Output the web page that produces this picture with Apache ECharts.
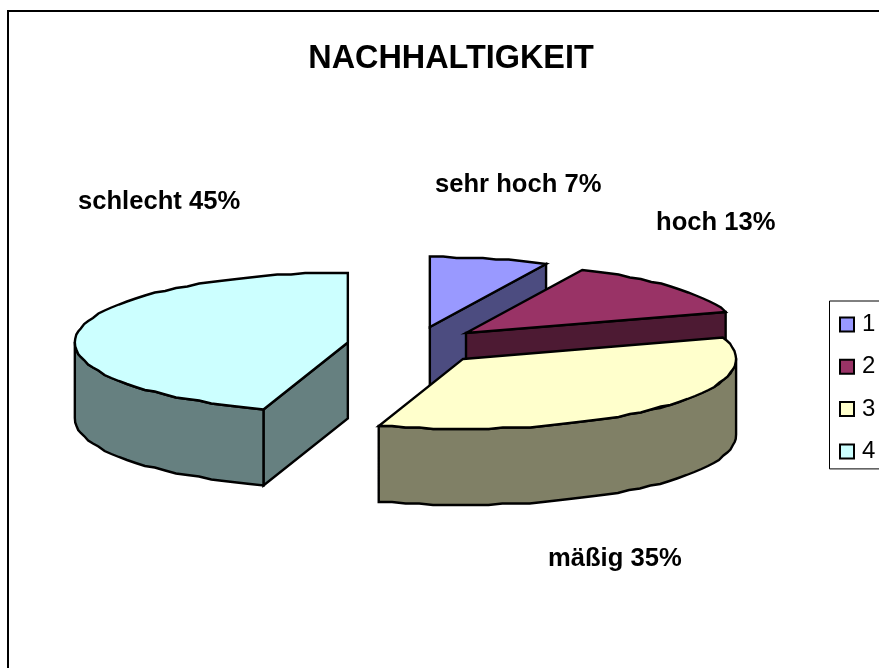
<!DOCTYPE html>
<html>
<head>
<meta charset="utf-8">
<style>
html, body { margin: 0; padding: 0; background: #fff; }
#chart { width: 879px; height: 668px; }
</style>
<script src="https://cdn.jsdelivr.net/npm/echarts@6/dist/echarts.min.js"></script>
</head>
<body>
<div id="chart"></div>
<script>
const chartTitle = 'NACHHALTIGKEIT';
const categories = ['1', '2', '3', '4'];
const shares = [7, 13, 35, 45];
const sliceLabels = ['sehr hoch 7%', 'hoch 13%', 'mäßig 35%', 'schlecht 45%'];
const topColors = ['#9999ff', '#993366', '#ffffcc', '#ccffff'];
const sideColors = ['#4c4c80', '#4d1a33', '#808066', '#668080'];

// layout of the tilted pie
const pie = { cx: 415, cy: 345.5, rx: 273, ry: 70, depth: 76, explodeX: 68, explodeY: 19 };
const labelAt = [[435, 185], [656, 223], [548, 559], [78, 202]];
const total = shares.reduce((a, b) => a + b, 0);

function rad(deg) {
    return deg * Math.PI / 180;
}

// the rim of the original is stepped, so snap y to a coarse grid
function rim(c, deg, drop) {
    return [
        c[0] + pie.rx * Math.sin(rad(deg)),
        Math.round((c[1] - pie.ry * Math.cos(rad(deg))) / 1.5) * 1.5 + drop
    ];
}

function arc(c, from, to, drop) {
    let pts = [];
    let n = Math.max(2, Math.ceil((to - from) / 3));
    for (let i = 0; i <= n; i++) {
        pts.push(rim(c, from + (to - from) * i / n, drop));
    }
    return pts;
}

function face(points, fill) {
    return {
        type: 'polygon',
        shape: { points: points },
        style: { fill: fill, stroke: '#000', lineWidth: 2.4, lineJoin: 'miter' }
    };
}

function wall(a, b, fill) {
    return face([a, b, [b[0], b[1] + pie.depth], [a[0], a[1] + pie.depth]], fill);
}

function renderSlice(i) {
    let before = shares.slice(0, i).reduce((a, b) => a + b, 0);
    let from = before / total * 360;
    let to = (before + shares[i]) / total * 360;
    let mid = (from + to) / 2;
    let c = [
        pie.cx + pie.explodeX * Math.sin(rad(mid)),
        pie.cy - pie.explodeY * Math.cos(rad(mid))
    ];
    let children = [];
    // cut faces that point towards the viewer
    if (Math.cos(rad(from - 90)) < -0.001) {
        children.push(wall(c, rim(c, from, 0), sideColors[i]));
    }
    if (Math.cos(rad(to + 90)) < -0.001) {
        children.push(wall(c, rim(c, to, 0), sideColors[i]));
    }
    // outer wall, only the front half of the ellipse shows
    let f = Math.max(from, 90);
    let t = Math.min(to, 270);
    if (t > f) {
        let upper = arc(c, f, t, 0);
        let lower = arc(c, f, t, pie.depth).reverse();
        children.push(face(upper.concat(lower), sideColors[i]));
    }
    children.push(face([c].concat(arc(c, from, to, 0)), topColors[i]));
    children.push({
        type: 'text',
        x: labelAt[i][0],
        y: labelAt[i][1],
        style: {
            text: sliceLabels[i],
            fill: '#000',
            font: 'bold 25.6px "Liberation Sans", Arial, sans-serif',
            textVerticalAlign: 'middle'
        }
    });
    return { type: 'group', children: children };
}

const C = echarts.init(document.getElementById('chart'), null, { renderer: 'canvas' });
C.setOption({
    animation: false,
    backgroundColor: '#fff',
    title: {
        text: chartTitle,
        left: 446,
        top: 38,
        textAlign: 'center',
        textStyle: { color: '#000', fontFamily: 'Liberation Sans', fontWeight: 'bold', fontSize: 32.4 }
    },
    legend: {
        orient: 'vertical',
        left: 829.5,
        top: 301,
        padding: [11.5, 30, 5.5, 9.5],
        itemWidth: 14,
        itemHeight: 14,
        itemGap: 18.3,
        icon: 'rect',
        backgroundColor: '#fff',
        borderColor: '#000',
        borderWidth: 1,
        selectedMode: false,
        itemStyle: { borderColor: '#000', borderWidth: 2 },
        textStyle: { color: '#000', fontFamily: 'Liberation Sans', fontSize: 24, lineHeight: 23, padding: [0, 0, 0, 3] },
        data: categories
    },
    graphic: [{
        type: 'rect',
        z: -1,
        shape: { x: 8, y: 11, width: 1000, height: 1000 },
        style: { fill: '#fff', stroke: '#000', lineWidth: 2 }
    }],
    series: categories.map((name, i) => ({
        type: 'custom',
        name: name,
        coordinateSystem: 'none',
        silent: true,
        z: 2 + i,
        itemStyle: { color: topColors[i] },
        data: [[shares[i]]],
        renderItem: () => renderSlice(i)
    }))
});
</script>
</body>
</html>
